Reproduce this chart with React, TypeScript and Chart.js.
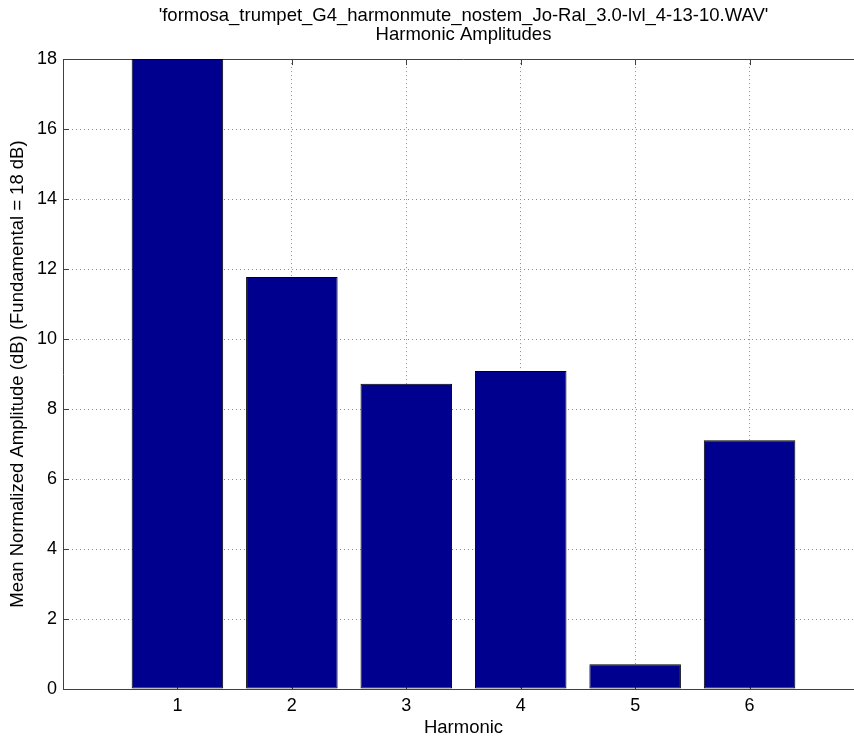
import { useEffect, useRef } from 'react';
import { Chart, registerables } from 'chart.js';

Chart.register(...registerables);

// Harmonic numbers and their mean normalized amplitudes (dB)
const harmonics = [1, 2, 3, 4, 5, 6];
const amplitudes = [18, 11.77, 8.72, 9.09, 0.71, 7.11];
const yTickValues = [0, 2, 4, 6, 8, 10, 12, 14, 16, 18];

const titleLines = [
  "'formosa_trumpet_G4_harmonmute_nostem_Jo-Ral_3.0-lvl_4-13-10.WAV'",
  'Harmonic Amplitudes',
];
const xLabel = 'Harmonic';
const yLabel = 'Mean Normalized Amplitude (dB) (Fundamental = 18 dB)';

const FONT = '"Liberation Sans", Arial, Helvetica, sans-serif';
const AXIS_COLOR = '#404040';
const GRID_COLOR = '#8a8a8a';
const BAR_COLOR = '#00008f';

// Box-style axes: solid top edge and short inward tick marks
const boxAxes = {
  id: 'boxAxes',
  beforeDatasetsDraw(chart: any) {
    const { ctx, chartArea } = chart;
    const x = chart.scales.x;
    const y = chart.scales.y;
    const len = 6;
    ctx.save();
    ctx.strokeStyle = AXIS_COLOR;
    ctx.lineWidth = 1;
    ctx.beginPath();
    yTickValues.forEach((v) => {
      const py = Math.round(y.getPixelForValue(v)) + 0.5;
      ctx.moveTo(chartArea.left, py);
      ctx.lineTo(chartArea.left + len, py);
    });
    harmonics.forEach((v) => {
      const px = Math.round(x.getPixelForValue(v)) + 0.5;
      ctx.moveTo(px, chartArea.bottom);
      ctx.lineTo(px, chartArea.bottom - len);
      ctx.moveTo(px, chartArea.top);
      ctx.lineTo(px, chartArea.top + len);
    });
    ctx.stroke();
    ctx.beginPath();
    const top = Math.round(chartArea.top) + 0.5;
    ctx.moveTo(chartArea.left, top);
    ctx.lineTo(chartArea.right, top);
    ctx.stroke();
    ctx.restore();
  },
};

export default function App() {
  const canvasRef = useRef<HTMLCanvasElement | null>(null);

  useEffect(() => {
    const canvas = canvasRef.current;
    if (!canvas) return;
    const chart = new Chart(canvas, {
      type: 'bar',
      data: {
        datasets: [
          {
            data: harmonics.map((h, i) => ({ x: h, y: amplitudes[i] })),
            backgroundColor: BAR_COLOR,
            borderColor: '#000000',
            borderWidth: 1,
            borderSkipped: false,
            barPercentage: 0.8,
            categoryPercentage: 1,
          },
        ],
      },
      options: {
        responsive: false,
        animation: false,
        events: [],
        layout: { padding: 0 },
        plugins: {
          legend: { display: false },
          tooltip: { enabled: false },
          title: {
            display: true,
            fullSize: false,
            text: titleLines,
            color: '#000',
            font: { family: FONT, size: 18.5, weight: 'normal', lineHeight: 1.03 },
            padding: { top: 6, bottom: 15 },
          },
        },
        scales: {
          x: {
            type: 'linear',
            min: 0,
            max: 7,
            offset: false,
            afterBuildTicks: (scale: any) => {
              scale.ticks = harmonics.map((v) => ({ value: v }));
            },
            afterFit: (scale: any) => {
              scale.height = 51;
            },
            ticks: {
              color: '#000',
              font: { family: FONT, size: 18 },
              padding: 6,
              maxRotation: 0,
              callback: (v: any) => String(v),
            },
            grid: {
              offset: false,
              drawTicks: false,
              color: GRID_COLOR,
              lineWidth: 1,
            },
            border: { display: true, color: AXIS_COLOR, width: 1, dash: [1, 3] },
            title: {
              display: true,
              text: xLabel,
              color: '#000',
              font: { family: FONT, size: 18.5, lineHeight: 1.2 },
              padding: { top: 0, bottom: 1 },
            },
          },
          y: {
            min: 0,
            max: 18,
            afterBuildTicks: (scale: any) => {
              scale.ticks = yTickValues.map((v) => ({ value: v }));
            },
            afterFit: (scale: any) => {
              scale.width = 63;
            },
            ticks: {
              color: '#000',
              font: { family: FONT, size: 18 },
              padding: 6,
            },
            grid: {
              drawTicks: false,
              color: (ctx: any) =>
                ctx.tick && (ctx.tick.value === 0 || ctx.tick.value === 18)
                  ? 'rgba(0,0,0,0)'
                  : GRID_COLOR,
              lineWidth: 1,
            },
            border: { display: true, color: AXIS_COLOR, width: 1, dash: [1, 3] },
            title: {
              display: true,
              text: yLabel,
              color: '#000',
              font: { family: FONT, size: 18.5, lineHeight: 1.2 },
              padding: { top: 7, bottom: 0 },
            },
          },
        },
      },
      plugins: [boxAxes],
    } as any);
    return () => chart.destroy();
  }, []);

  return (
    <div
      style={{
        position: 'absolute',
        left: 0,
        top: 0,
        width: 854,
        height: 740,
        overflow: 'hidden',
        background: '#fff',
      }}
    >
      <canvas ref={canvasRef} width={864} height={740} style={{ display: 'block' }} />
    </div>
  );
}
